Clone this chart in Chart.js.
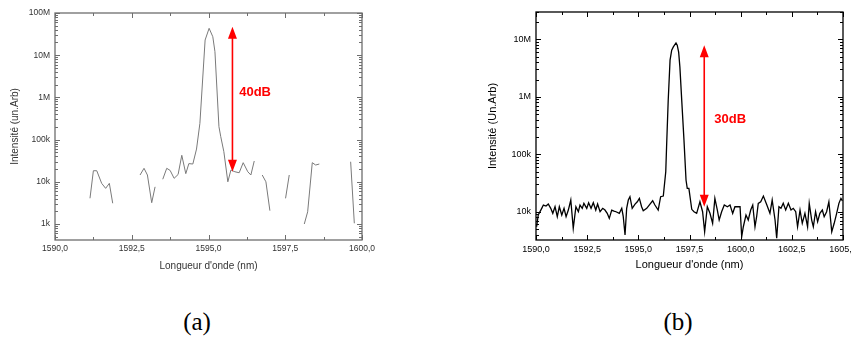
<!DOCTYPE html>
<html>
<head>
<meta charset="utf-8">
<script src="https://cdn.jsdelivr.net/npm/chart.js@4/dist/chart.umd.min.js"></script>
<style>
  html, body { margin: 0; padding: 0; background: #fff; }
  body { width: 851px; height: 338px; position: relative; overflow: hidden; }
  canvas { position: absolute; top: 0; }
  #ca { left: 0; }
  #cb { left: 460px; }
  .cap { position: absolute; top: 308px; width: 60px; text-align: center;
         font: 25px "Liberation Serif", "DejaVu Serif", serif; color: #000; }
</style>
</head>
<body>
<canvas id="ca" width="380" height="280" style="width:380px;height:280px"></canvas>
<canvas id="cb" width="410" height="280" style="width:410px;height:280px"></canvas>
<div class="cap" style="left:167px">(a)</div>
<div class="cap" style="left:648px">(b)</div>
<script>
// panel (a): gaps in the trace are null values
var wlA = [
  1591.14, 1591.25, 1591.36, 1591.52, 1591.65, 1591.77, 1591.88, 1592.3,
  1592.77, 1592.90, 1593.01, 1593.15, 1593.26, 1593.4,
  1593.51, 1593.64, 1593.75, 1593.88, 1594.01, 1594.13, 1594.26, 1594.36, 1594.49, 1594.61,
  1594.72, 1594.89, 1595.02, 1595.14, 1595.21, 1595.34, 1595.40, 1595.50, 1595.63, 1595.73,
  1595.86, 1596.00, 1596.13, 1596.28, 1596.38, 1596.49, 1596.6,
  1596.75, 1596.87, 1597.00, 1597.3,
  1597.51, 1597.63, 1597.9,
  1598.12, 1598.23, 1598.38, 1598.49, 1598.61, 1599.1,
  1599.63, 1599.75
];
var intA = [
  4070, 18300, 18300, 9200, 7000, 9200, 3100, null,
  14500, 20900, 14500, 3200, 7600, null,
  11500, 20900, 18600, 12100, 14900, 42500, 15600, 27000, 26400, 59800,
  243000, 22900000, 43400000, 27400000, 12100000, 202000, 117000, 51700, 10000, 19000,
  17300, 16400, 28400, 17300, 14500, 31100, null,
  14500, 10000, 2070, null,
  4060, 14500, null,
  1000, 1950, 28400, 25000, 26400, null,
  29900, 1040
];

// panel (b)
var wlB = [
  1590.03, 1590.11, 1590.28, 1590.36, 1590.49, 1590.60, 1590.72, 1590.82, 1590.93, 1591.04,
  1591.14, 1591.26, 1591.37, 1591.47, 1591.58, 1591.70, 1591.82, 1591.95, 1592.07, 1592.15,
  1592.26, 1592.34, 1592.48, 1592.57, 1592.69, 1592.80, 1592.92, 1593.01, 1593.13, 1593.26,
  1593.37, 1593.48, 1593.58, 1593.70, 1593.81, 1593.91, 1594.07, 1594.19, 1594.26, 1594.35,
  1594.43, 1594.51, 1594.59, 1594.70, 1594.84, 1594.95, 1595.05, 1595.16, 1595.24, 1595.41,
  1595.57, 1595.70, 1595.81, 1595.97, 1596.09, 1596.22, 1596.34, 1596.38, 1596.46, 1596.55,
  1596.63, 1596.71, 1596.84, 1596.90, 1596.97, 1597.03, 1597.12, 1597.23, 1597.33, 1597.39,
  1597.47, 1597.61, 1597.72, 1597.85, 1598.01, 1598.14, 1598.24, 1598.37, 1598.50, 1598.63,
  1598.74, 1598.86, 1598.95, 1599.07, 1599.20, 1599.35, 1599.48, 1599.61, 1599.72, 1599.83,
  1599.97, 1600.05, 1600.13, 1600.26, 1600.37, 1600.49, 1600.59, 1600.70, 1600.78, 1600.86,
  1600.98, 1601.11, 1601.28, 1601.43, 1601.54, 1601.68, 1601.76, 1601.87, 1601.97, 1602.08,
  1602.20, 1602.33, 1602.46, 1602.57, 1602.69, 1602.78, 1602.90, 1603.01, 1603.14, 1603.27,
  1603.35, 1603.47, 1603.55, 1603.66, 1603.76, 1603.87, 1603.99, 1604.08, 1604.20, 1604.31,
  1604.45, 1604.57, 1604.69, 1604.80, 1604.90, 1604.97
];
var intB = [
  5480, 8760, 11460, 13080, 12560, 13610, 11460, 9380, 12220, 8190,
  12220, 8760, 11460, 8190, 10700, 15980, 5140, 12220, 10000, 13080,
  11460, 14000, 11460, 14340, 11460, 14340, 10700, 13610, 10000, 11460,
  10700, 9380, 7680, 10700, 10280, 10000, 9380, 11460, 8420, 3930,
  11460, 15980, 18240, 11460, 13610, 14920, 17100, 12220, 10400, 11460,
  13610, 15540, 13080, 10700, 18240, 18750, 49640, 135000, 876000, 4350000,
  6490000, 7410000, 8690000, 7930000, 5990000, 3320000, 876000, 176600, 35600, 25500,
  25500, 11010, 10000, 9380, 14920, 10000, 4490, 12220, 9380, 6290,
  17100, 10700, 7170, 10000, 13080, 12220, 13080, 9380, 12220, 12220,
  12220, 3670, 5480, 8760, 7170, 10700, 13080, 5480, 8190, 14000,
  14920, 18750, 13080, 9380, 15980, 7170, 3450, 12220, 11460, 14000,
  10700, 14000, 10700, 11460, 10000, 5480, 10700, 6290, 9380, 5480,
  14000, 7170, 5480, 10000, 6700, 9380, 10700, 8190, 10000, 14920,
  4490, 6290, 9380, 14000, 17100, 15500
];

var xTicksA = [1590, 1592.5, 1595, 1597.5, 1600];
var xLabelsA = ["1590,0", "1592,5", "1595,0", "1597,5", "1600,0"];
var yTicksA = [1e3, 1e4, 1e5, 1e6, 1e7, 1e8];
var yLabelsA = ["1k", "10k", "100k", "1M", "10M", "100M"];

var xTicksB = [1590, 1592.5, 1595, 1597.5, 1600, 1602.5, 1605];
var xLabelsB = ["1590,0", "1592,5", "1595,0", "1597,5", "1600,0", "1602,5", "1605,0"];
var yTicksB = [1e4, 1e5, 1e6, 1e7];
var yLabelsB = ["10k", "100k", "1M", "10M"];

// the red "dB" arrows, in data units
var arrowA = { x: 1595.78, from: 47000000, to: 17300, text: "40dB", tx: 1596.0, ty: 1290000 };
var arrowB = { x: 1598.22, from: 7930000, to: 12200, text: "30dB", tx: 1598.71, ty: 405000 };

var SANS = '"Liberation Sans", Arial, sans-serif';

// box round the plot plus inward ticks on all four sides
var framePlugin = {
  id: "frame",
  afterDatasetsDraw: function (chart, args, o) {
    var ctx = chart.ctx, a = chart.chartArea, x = chart.scales.x, y = chart.scales.y;
    ctx.save();
    ctx.strokeStyle = o.color;
    ctx.lineWidth = o.width;
    ctx.beginPath();
    var i, v, px, len;
    for (i = 0; ; i++) {
      v = x.min + i * o.xMinor;
      if (v > x.max + 1e-9) break;
      px = Math.round(x.getPixelForValue(v)) + 0.5;
      len = i % 2 === 0 ? 5 : 3;
      ctx.moveTo(px, a.bottom); ctx.lineTo(px, a.bottom - len);
      ctx.moveTo(px, a.top); ctx.lineTo(px, a.top + len);
    }
    var d0 = Math.floor(Math.log10(y.min));
    for (var d = d0; Math.pow(10, d) <= y.max; d++) {
      for (var m = 1; m <= 9; m++) {
        v = m * Math.pow(10, d);
        if (v < y.min || v > y.max) continue;
        px = Math.round(y.getPixelForValue(v)) + 0.5;
        len = m === 1 ? 5 : 3;
        ctx.moveTo(a.left, px); ctx.lineTo(a.left + len, px);
        ctx.moveTo(a.right, px); ctx.lineTo(a.right - len, px);
      }
    }
    ctx.stroke();
    ctx.lineWidth = o.boxWidth;
    ctx.strokeRect(a.left, a.top, a.right - a.left, a.bottom - a.top);
    ctx.restore();
  }
};

var arrowPlugin = {
  id: "dbArrow",
  afterDraw: function (chart, args, o) {
    var ctx = chart.ctx, x = chart.scales.x, y = chart.scales.y;
    var px = x.getPixelForValue(o.x);
    var y1 = y.getPixelForValue(o.from), y2 = y.getPixelForValue(o.to);
    var hh = 12, hw = 4.5;
    ctx.save();
    ctx.strokeStyle = "#ff0000";
    ctx.fillStyle = "#ff0000";
    ctx.lineWidth = 1.6;
    ctx.beginPath();
    ctx.moveTo(px, y1 + hh - 1); ctx.lineTo(px, y2 - hh + 1);
    ctx.stroke();
    ctx.beginPath();
    ctx.moveTo(px, y1); ctx.lineTo(px - hw, y1 + hh); ctx.lineTo(px + hw, y1 + hh); ctx.closePath();
    ctx.moveTo(px, y2); ctx.lineTo(px - hw, y2 - hh); ctx.lineTo(px + hw, y2 - hh); ctx.closePath();
    ctx.fill();
    ctx.font = "bold 13px " + SANS;
    ctx.textAlign = "left";
    ctx.textBaseline = "middle";
    ctx.fillText(o.text, x.getPixelForValue(o.tx), y.getPixelForValue(o.ty));
    ctx.restore();
  }
};

function makePanel(id, p) {
  var pts = p.wl.map(function (w, i) { return { x: w, y: p.vals[i] }; });
  return new Chart(document.getElementById(id), {
    type: "scatter",
    data: {
      datasets: [{
        data: pts, showLine: true, spanGaps: false,
        borderColor: p.lineColor, borderWidth: p.lineWidth,
        pointRadius: 0, tension: 0
      }]
    },
    options: {
      responsive: false,
      animation: false,
      layout: { padding: { top: p.top, right: p.right, left: 0, bottom: 0 } },
      plugins: {
        legend: { display: false },
        tooltip: { enabled: false },
        frame: { color: p.frameColor, width: 1, boxWidth: p.boxWidth, xMinor: 1.25 },
        dbArrow: p.arrow
      },
      scales: {
        x: {
          type: "linear", min: p.xMin, max: p.xMax,
          afterBuildTicks: function (s) { s.ticks = p.xTicks.map(function (v) { return { value: v }; }); },
          afterFit: function (s) { s.height = 40; },
          ticks: {
            autoSkip: false, maxRotation: 0, padding: 4, color: p.textColor,
            font: { family: SANS, size: p.tickSize },
            callback: function (v, i) { return p.xLabels[i]; }
          },
          grid: { display: false, drawTicks: false },
          border: { display: false },
          title: {
            display: true, text: "Longueur d'onde (nm)", color: p.textColor,
            font: { family: SANS, size: p.titleSize }, padding: { top: 0, bottom: 8 }
          }
        },
        y: {
          type: "logarithmic", min: p.yMin, max: p.yMax,
          afterBuildTicks: function (s) { s.ticks = p.yTicks.map(function (v) { return { value: v }; }); },
          afterFit: function (s) { s.width = p.yWidth; },
          ticks: {
            padding: 5, color: p.textColor,
            font: { family: SANS, size: p.tickSize },
            callback: function (v, i) { return p.yLabels[i]; }
          },
          grid: { display: false, drawTicks: false },
          border: { display: false },
          title: {
            display: true, text: p.yTitle, color: p.textColor,
            font: { family: SANS, size: p.titleSize }, padding: { top: p.yTitlePad, bottom: 0 }
          }
        }
      }
    },
    plugins: [framePlugin, arrowPlugin]
  });
}

makePanel("ca", {
  wl: wlA, vals: intA, lineColor: "#7a7a7a", lineWidth: 1,
  frameColor: "#6e6e6e", boxWidth: 1.3, textColor: "#333",
  top: 13, right: 18, yWidth: 55, yTitlePad: 9,
  xMin: 1590, xMax: 1600, yMin: 418, yMax: 1e8,
  xTicks: xTicksA, xLabels: xLabelsA, yTicks: yTicksA, yLabels: yLabelsA,
  tickSize: 8.5, titleSize: 10, yTitle: "Intensité (un.Arb)",
  arrow: arrowA
});

makePanel("cb", {
  wl: wlB, vals: intB, lineColor: "#000", lineWidth: 1.3,
  frameColor: "#000", boxWidth: 1.3, textColor: "#000",
  top: 12, right: 27, yWidth: 76, yTitlePad: 26,
  xMin: 1590, xMax: 1605, yMin: 3220, yMax: 3e7,
  xTicks: xTicksB, xLabels: xLabelsB, yTicks: yTicksB, yLabels: yLabelsB,
  tickSize: 9, titleSize: 11, yTitle: "Intensité (Un.Arb)",
  arrow: arrowB
});
</script>
</body>
</html>
